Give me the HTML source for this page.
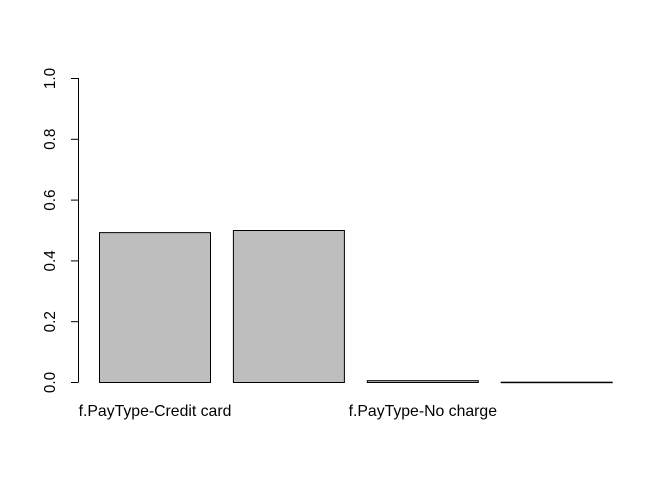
<!DOCTYPE html>
<html><head><meta charset="utf-8"><style>
body{margin:0;background:#fff}
svg{display:block;font-family:"Liberation Sans",sans-serif}
</style></head><body>
<svg id="chart" width="672" height="480"></svg>
<script>
const categories=["f.PayType-Credit card","f.PayType-Debit card","f.PayType-No charge","f.PayType-Other"];
const shownLabels=["f.PayType-Credit card","","f.PayType-No charge",""];
const values=[0.493,0.5,0.006,0.001];
const yTicks=[0,0.2,0.4,0.6,0.8,1.0];
const yTickLabels=["0.0","0.2","0.4","0.6","0.8","1.0"];
const NS="http://www.w3.org/2000/svg";
const svg=document.getElementById('chart');
const y0=382,y1=78;
const yScale=v=>y0-(y0-y1)*v;
const xLeft=i=>99+i*133.9;
const bw=111;
function mk(t,a){const e=document.createElementNS(NS,t);for(const k in a)e.setAttribute(k,a[k]);svg.appendChild(e);return e;}
values.forEach((v,i)=>{
  const r=mk('rect',{x:xLeft(i)+0.5,y:yScale(v)+0.5,width:bw,height:Math.max(y0-yScale(v),0.5),fill:'#bebebe',stroke:'#000','stroke-width':1});
  
  
  if(shownLabels[i]){
    const t=mk('text',{x:xLeft(i)+bw/2+0.5,y:416,'text-anchor':'middle','font-size':15.8});
    t.textContent=shownLabels[i];
    
    
  }
});
const ax=mk('line',{x1:78.5,x2:78.5,y1:yScale(0),y2:yScale(1),stroke:'#000'});


yTicks.forEach((v,i)=>{
  const y=yScale(v)+0.5;
  const l=mk('line',{x1:71,x2:78.5,y1:y,y2:y,stroke:'#000'});
  
  
  const t=mk('text',{x:0,y:0,'text-anchor':'middle','font-size':15.3,transform:`translate(55,${y}) rotate(-90)`});
  t.textContent=yTickLabels[i];
  
  
});
</script>
</body></html>
